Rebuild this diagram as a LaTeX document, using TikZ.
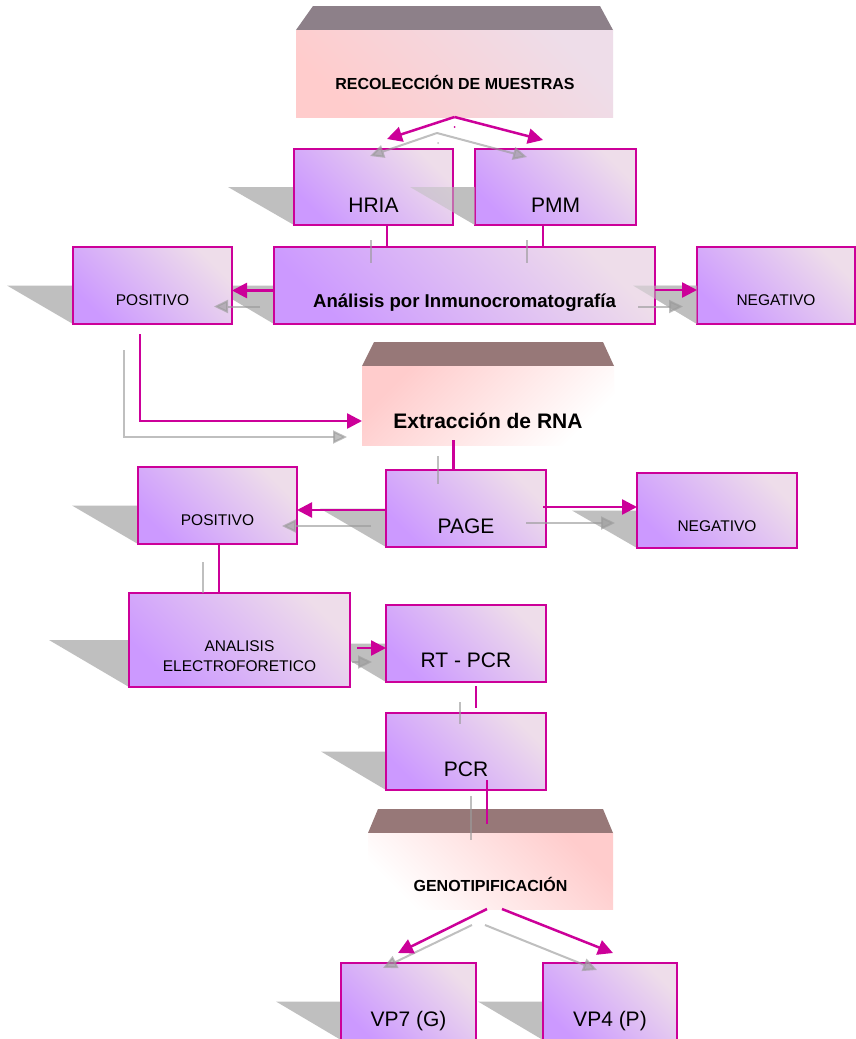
\documentclass[tikz,border=0pt]{standalone}
\usepackage{fontspec}
\setmainfont{Liberation Sans}
\usetikzlibrary{arrows.meta,calc}
\definecolor{mag}{HTML}{CC0099}
\definecolor{boxlt}{HTML}{EEDDEA}
\definecolor{boxdk}{HTML}{CC99FF}
\definecolor{shad}{HTML}{BFBFBF}
\definecolor{garrow}{HTML}{9B9B9B}
\definecolor{bandA}{HTML}{8D8089}
\definecolor{bandB}{HTML}{977878}
\definecolor{pinkh}{HTML}{FFCCCC}
\definecolor{hdrlt}{HTML}{EEDDE9}
\pgfdeclarelayer{bg}
\pgfsetlayers{bg,main}
\begin{document}
\begin{tikzpicture}[x=1pt,y=-1pt,
  box/.style={draw=mag, line width=1.8pt, top color=boxlt, bottom color=boxdk,
    shading angle=-45, inner sep=0pt, outer sep=0pt},
  hdr/.style={inner sep=0pt, outer sep=0pt},
  tbig/.style={font=\fontsize{21}{25}\selectfont, inner sep=0pt},
  tsmall/.style={font=\fontsize{15.5}{19.5}\selectfont, inner sep=0pt},
  tana/.style={font=\bfseries\fontsize{18.6}{22}\selectfont, inner sep=0pt},
  thead/.style={font=\bfseries\fontsize{16}{19}\selectfont, inner sep=0pt},
  textr/.style={font=\bfseries\fontsize{21}{25}\selectfont, inner sep=0pt},
  marrow/.style={draw=mag, line width=2.5pt, -{Triangle[length=15pt,width=15pt]}},
  garr/.style={draw=garrow, opacity=0.64, line width=2pt, -{Triangle[length=14pt,width=13pt]}},
  mplain/.style={draw=mag, line width=2.5pt},
  gplain/.style={draw=garrow, opacity=0.64, line width=2pt}]

\useasboundingbox (0,0) rectangle (856,1039);
\clip (0,0) rectangle (856,1039);

% ---------- headers ----------
\fill[bandA] (313,6) -- (600,6) -- (613,30) -- (296,30) -- cycle;
\node[hdr, minimum width=317pt, minimum height=87pt, top color=hdrlt, bottom color=pinkh, shading angle=-45] (hdr1) at (454.5,73.5) {};
\node[thead, anchor=base] (t-hdr1) at (455,89.3) {RECOLECCIÓN DE MUESTRAS};

\fill[bandB] (374,342) -- (603,342) -- (614,366) -- (362,366) -- cycle;
\node[hdr, minimum width=252pt, minimum height=79pt, top color=pinkh, middle color=white!85!pinkh, bottom color=white, shading angle=45] (ext) at (488,405.5) {};
\node[textr, anchor=base] (t-ext) at (488,428) {Extracción de RNA};

\fill[bandB] (378,809) -- (603,809) -- (613,833) -- (368,833) -- cycle;
\node[hdr, minimum width=245pt, minimum height=76pt, top color=pinkh, middle color=white!75!pinkh, bottom color=white, shading angle=-45] (gen) at (490.5,871) {};
\node[thead, anchor=base] (t-gen) at (490.5,891.7) {GENOTIPIFICACIÓN};

% ---------- boxes ----------
\node[box, minimum width=159pt, minimum height=76pt] (hria) at (373.5,187) {};
\node[box, minimum width=161pt, minimum height=76pt] (pmm) at (555.5,187) {};
\node[box, minimum width=159pt, minimum height=77pt] (pos1) at (152.5,285.5) {};
\node[box, minimum width=381pt, minimum height=77pt] (ana) at (464.5,285.5) {};
\node[box, minimum width=158pt, minimum height=77pt] (neg1) at (776,285.5) {};
\node[box, minimum width=159pt, minimum height=77pt] (pos2) at (217.5,505.5) {};
\node[box, minimum width=160pt, minimum height=77pt] (page) at (466,508.5) {};
\node[box, minimum width=160pt, minimum height=75pt] (neg2) at (717,510.5) {};
\node[box, minimum width=221pt, minimum height=94pt] (analisis) at (239.5,640) {};
\node[box, minimum width=160pt, minimum height=77pt] (rtpcr) at (466,643.5) {};
\node[box, minimum width=160pt, minimum height=77pt] (pcr) at (466,751.5) {};
\node[box, minimum width=135pt, minimum height=77pt] (vp7) at (408.5,1001.5) {};
\node[box, minimum width=134pt, minimum height=77pt] (vp4) at (610,1001.5) {};

% ---------- shadows ----------
\begin{pgfonlayer}{bg}
\fill[white] (0,0) rectangle (856,1039);
\foreach \n/\o in {hria/66,pmm/65,pos1/66,ana/65,neg1/64,pos2/66,page/66,neg2/65,analisis/80,rtpcr/65,pcr/65,vp7/65,vp4/65}
  \fill[shad] ($(\n.west)+(-\o,0)$) -- (\n.west) -- (\n.south west) -- cycle;
\end{pgfonlayer}
% shadows that lie over a neighbouring box
\fill[shad, opacity=0.55] ($(pmm.west)+(-65,0)$) -- (pmm.west) -- (pmm.south west) -- cycle;
\fill[shad, opacity=0.55] ($(neg1.west)+(-64,0)$) -- (neg1.west) -- (neg1.south west) -- cycle;

% ---------- texts ----------
\node[tbig, anchor=base] (t-hria) at (373.5,212.5) {HRIA};
\node[tbig, anchor=base] (t-pmm) at (555.5,212.5) {PMM};
\node[tsmall, anchor=base] (t-pos1) at (152.5,305.7) {POSITIVO};
\node[tana, anchor=base] (t-ana) at (464.5,307) {Análisis por Inmunocromatografía};
\node[tsmall, anchor=base] (t-neg1) at (776,305.7) {NEGATIVO};
\node[tsmall, anchor=base] (t-pos2) at (217.5,525) {POSITIVO};
\node[tbig, anchor=base] (t-page) at (466,533) {PAGE};
\node[tsmall, anchor=base] (t-neg2) at (717,531) {NEGATIVO};
\node[tsmall, align=center] (t-analisis) at (239.5,656.2) {ANALISIS\\ELECTROFORETICO};
\node[tbig, anchor=base] (t-rtpcr) at (466,667) {RT - PCR};
\node[tbig, anchor=base] (t-pcr) at (466,776) {PCR};
\node[tbig, anchor=base] (t-vp7) at (408.5,1026.5) {VP7 (G)};
\node[tbig, anchor=base] (t-vp4) at (610,1026.5) {VP4 (P)};

% ---------- gray connectors ----------
\coordinate (gapex) at ($(hdr1.south)+(-17.5,16)$);
\draw[garr] (gapex) -- ($(hria.north)+(-3.5,7)$);
\draw[garr] (gapex) -- ($(pmm.north)+(-28.5,8)$);
\fill[garrow, opacity=0.64] ($(hdr1.south)+(-16.5,26)$) circle (1pt);
\draw[gplain] ($(ana.north)+(-93.5,-7)$) -- ($(ana.north)+(-93.5,16)$);
\draw[gplain] ($(ana.north)+(62.5,-7)$) -- ($(ana.north)+(62.5,16)$);
\draw[garr] ($(ana.west)+(-14,21)$) -- ($(pos1.east)+(-18,21)$);
\draw[garr] ($(ana.east)+(-17,21)$) -- ($(neg1.west)+(-14,21)$);
\draw[garr] ($(pos1.south)+(-28.5,26)$) |- ($(ext.west)+(-15,31.5)$);
\draw[gplain] ($(page.north)+(-28,-14)$) -- ($(page.north)+(-28,14)$);
\draw[garr] ($(page.west)+(-15,17.5)$) -- ($(pos2.east)+(-15,20.5)$);
\draw[garr] ($(page.east)+(-20,14.5)$) -- ($(neg2.west)+(-22,12.5)$);
\draw[gplain] ($(analisis.north)+(-36.5,-31)$) -- ($(analisis.north)+(-36.5,0)$);
\draw[garr] ($(analisis.east)+(2,22)$) -- ($(rtpcr.west)+(-14,18.5)$);
\draw[gplain] ($(pcr.north)+(-6,-11)$) -- ($(pcr.north)+(-6,11)$);
\draw[gplain] ($(pcr.south)+(5,6)$) -- ($(gen.north)+(-19.5,7)$);
\draw[garr] ($(gen.south)+(-18.5,16)$) -- ($(vp7.north)+(-25.5,5)$);
\draw[garr] ($(gen.south)+(-5.5,16)$) -- ($(vp4.north)+(-13,7)$);

% ---------- magenta connectors ----------
\draw[marrow] (hdr1.south) -- ($(hria.north)+(13.5,-10)$);
\draw[marrow] (hdr1.south) -- ($(pmm.north)+(-12.5,-9)$);
\fill[mag] ($(hdr1.south)+(0,10)$) circle (1pt);
\draw[mplain] ($(hria.south)+(13.5,0)$) -- ($(ana.north)+(-77.5,0)$);
\draw[mplain] ($(pmm.south)+(-12.5,0)$) -- ($(ana.north)+(78.5,0)$);
\draw[marrow] ($(ana.west)+(0,5)$) -- ($(pos1.east)+(0,5)$);
\draw[marrow] ($(ana.east)+(0,4.5)$) -- ($(neg1.west)+(0,4.5)$);
\draw[marrow] ($(pos1.south)+(-12.5,10)$) |- ($(ext.west)+(0,15.5)$);
\draw[mplain] ($(ext.south)+(-34.5,-5)$) -- ($(page.north)+(-12.5,0)$);
\draw[marrow] ($(page.west)+(0,1.5)$) -- ($(pos2.east)+(0,4.5)$);
\draw[marrow] ($(page.east)+(-3,-1.5)$) -- ($(neg2.west)+(0,-3.5)$);
\draw[mplain] ($(pos2.south)+(1.5,0)$) -- ($(analisis.north)+(-20.5,0)$);
\draw[marrow] ($(analisis.east)+(7,8)$) -- ($(rtpcr.west)+(0,4.5)$);
\draw[mplain] ($(rtpcr.south)+(10,4)$) -- ($(pcr.north)+(10,-5)$);
\draw[mplain] ($(pcr.south)+(21,-10)$) -- ($(gen.north)+(-3.5,-9)$);
\draw[marrow] ($(gen.south)+(-3.5,0)$) -- ($(vp7.north)+(-10.5,-10)$);
\draw[marrow] ($(gen.south)+(11.5,0)$) -- ($(vp4.north)+(3,-10)$);
\end{tikzpicture}
\end{document}
